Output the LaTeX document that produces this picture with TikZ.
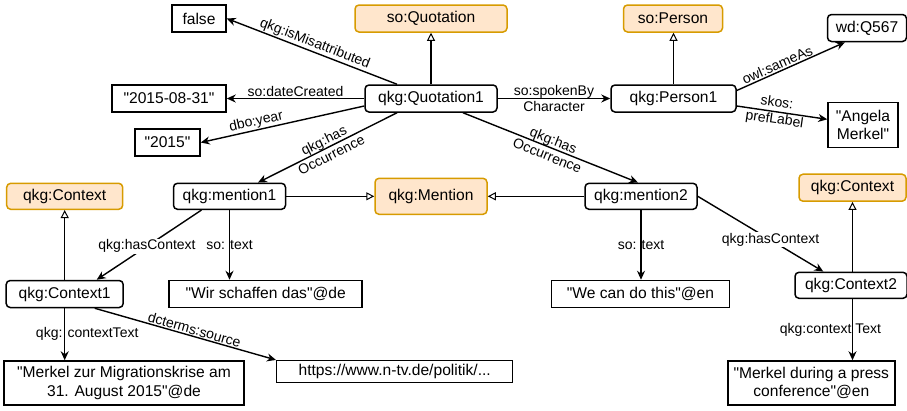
\documentclass[tikz,border=0pt]{standalone}
\usepackage{fontspec}
\setmainfont{Liberation Sans}[Ligatures=TeXOff]
\usetikzlibrary{arrows.meta}
\definecolor{clsfill}{HTML}{FFE6CC}
\definecolor{clsdraw}{HTML}{D79B00}
\begin{document}
\begin{tikzpicture}[x=1pt, y=-1pt,
  res/.style={draw, line width=1.5pt, rounded corners=4pt, fill=white, minimum height=27pt, inner sep=0pt, align=center, font=\fontsize{15.6}{18.5}\selectfont},
  cls/.style={res, draw=clsdraw, fill=clsfill},
  lit/.style={res, rounded corners=0pt},
  rel/.style={line width=1.4pt, -{Stealth[length=9pt,width=8pt]}},
  sub/.style={line width=1.4pt, -{Triangle[open,length=8pt,width=8pt,line width=1pt]}},
  lbl/.style={font=\fontsize{14}{16.5}\selectfont, align=center, inner sep=1pt}]
\useasboundingbox (0,0) rectangle (907,410);

% Citat
\node[lit, minimum width=54pt] (false) at (199,18.5) {false};
\node[cls, minimum width=152pt] (soquot) at (431,18.5) {so:Quotation};
\node[lit, minimum width=114pt] (created) at (169,98.5) {"2015-08-31"};
\node[res, minimum width=132pt] (quot1) at (431,98.5) {qkg:Quotation1};
\node[lit, minimum width=65pt] (year) at (167.5,142.5) {"2015"};

% Osoba
\node[cls, minimum width=99pt] (soperson) at (673,18.5) {so:Person};
\node[res, minimum width=79pt] (wd) at (867,28) {wd:Q567};
\node[res, minimum width=125pt] (person1) at (673.5,98.5) {qkg:Person1};
\node[lit, minimum width=70pt, minimum height=45pt] (name) at (863,125) {"Angela\\Merkel"};

% Vyskyty
\node[cls, minimum width=116pt, minimum height=26pt] (ctxleft) at (64.7,196.3) {qkg:Context};
\node[res, minimum width=112pt, minimum height=26pt] (mention1) at (229.5,196.3) {qkg:mention1};
\node[cls, minimum width=112pt, minimum height=36pt] (mention) at (431,196.3) {qkg:Mention};
\node[res, minimum width=112pt, minimum height=26pt] (mention2) at (641,196.3) {qkg:mention2};
\node[cls, minimum width=107pt] (ctxright) at (852.5,187.7) {qkg:Context};

% Kontexty a texty
\node[res, minimum width=117pt] (context1) at (64.7,294) {qkg:Context1};
\node[lit, minimum width=193pt] (textde) at (265.7,294) {"Wir schaffen das"@de};
\node[res, minimum width=112pt, minimum height=26pt] (context2) at (851,285.3) {qkg:Context2};
\node[lit, minimum width=178pt] (texten) at (640.5,294) {"We can do this"@en};
\node[lit, minimum width=240pt, minimum height=44pt] (ctxtextde) at (124,383) {"Merkel zur Migrationskrise am\\31. August 2015"@de};
\node[lit, minimum width=236pt, minimum height=22pt] (source) at (394.7,371.7) {https://www.n-tv.de/politik/...};
\node[lit, minimum width=167pt, minimum height=44pt] (ctxtexten) at (811.3,383) {"Merkel during a press\\conference"@en};

% Hrany citatu
\draw[rel] ([xshift=-34pt]quot1.north) -- node[lbl, midway, above, sloped] {qkg:isMisattributed} (false.east);
\draw[sub] (quot1.north) -- (soquot.south);
\draw[rel] (quot1.west) -- node[lbl, midway, above] {so:dateCreated} (created.east);
\draw[rel] ([yshift=-7.5pt]quot1.west) -- node[lbl, pos=0.65, above, sloped] {dbo:year} (year.east);
\draw[rel] ([xshift=-34pt]quot1.south) -- node[lbl, midway, sloped] {qkg:has\\Occurrence} ([xshift=28.5pt]mention1.north);
\draw[rel] ([xshift=32pt]quot1.south) -- node[lbl, midway, sloped] {qkg:has\\Occurrence} ([xshift=-3pt]mention2.north);
\draw[rel] (quot1.east) -- node[lbl, midway] {so:spokenBy\\Character} (person1.west);

% Hrany osoby
\draw[sub] (person1.north) -- (person1.north |- soperson.south);
\draw[rel] ([yshift=8pt]person1.east) -- node[lbl, pos=0.4, above, sloped] {owl:sameAs} ([xshift=-22pt]wd.south);
\draw[rel] ([yshift=-7.5pt]person1.east) -- node[lbl, pos=0.43, sloped] {skos:\\prefLabel} ([yshift=5.7pt]name.west);

% Hrany vyskytu
\draw[sub] (mention1.east) -- (mention.west);
\draw[sub] (mention2.west) -- (mention.east);
\draw[rel] ([xshift=-28pt]mention1.south) -- node[lbl, pos=0.52, fill=white] {qkg:hasContext} ([xshift=32pt]context1.north);
\draw[rel] (mention1.south) -- node[lbl, midway] {so: text} (mention1.south |- textde.north);
\draw[rel] (mention2.south) -- node[lbl, midway] {so: text} (mention2.south |- texten.north);
\draw[rel] (mention2.east) -- node[lbl, pos=0.58, fill=white] {qkg:hasContext} ([xshift=-27.7pt]context2.north);

% Hrany kontextu
\draw[sub] (context1.north) -- (context1.north |- ctxleft.south);
\draw[rel] (context1.south) -- node[lbl, midway, xshift=22.5pt] {qkg: contextText} (context1.south |- ctxtextde.north);
\draw[rel] ([xshift=30pt]context1.south) -- node[lbl, pos=0.54, above, sloped] {dcterms:source} (source.north west);
\draw[sub] (context2.north -| ctxright.south) -- (ctxright.south);
\draw[rel] (context2.south -| ctxright.south) -- node[lbl, midway, xshift=-22pt] {qkg:context Text} (ctxright.south |- ctxtexten.north);
\end{tikzpicture}
\end{document}
